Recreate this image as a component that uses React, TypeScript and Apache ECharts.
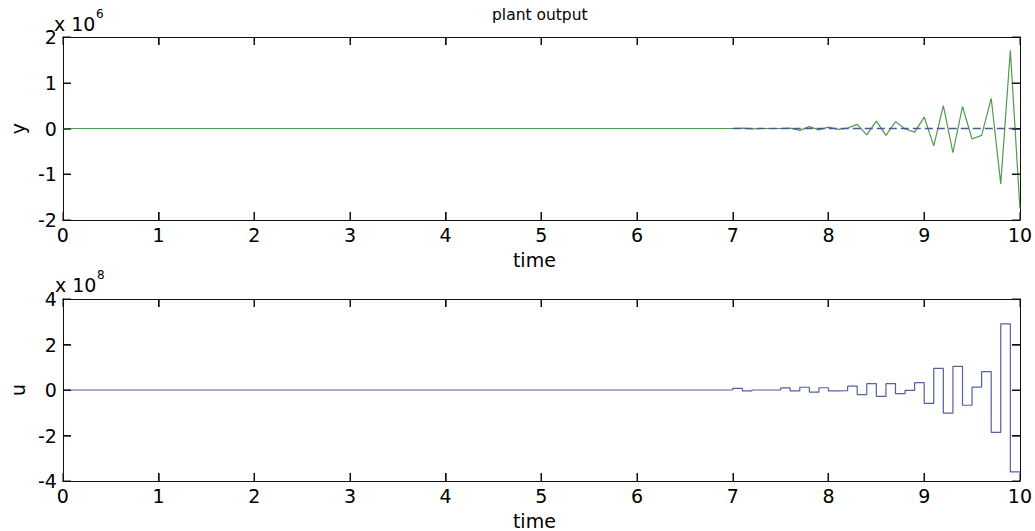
import React, { useEffect, useRef } from "react";
import * as echarts from "echarts";

// x tick values (time)
const timeTicks = [0, 1, 2, 3, 4, 5, 6, 7, 8, 9, 10];
// y tick values (top: units of 1e6, bottom: units of 1e8)
const yTicksTop = [-2, -1, 0, 1, 2];
const yTicksBottom = [-4, -2, 0, 2, 4];

// Plant output y (units of 1e6), sampled every 0.1 s from t = 7.0
const yTimes = [0, 7.0, 7.1, 7.2, 7.3, 7.4, 7.5, 7.6, 7.7, 7.8, 7.9, 8.0, 8.1, 8.2, 8.3, 8.4, 8.5, 8.6, 8.7, 8.8, 8.9, 9.0, 9.1, 9.2, 9.3, 9.4, 9.5, 9.6, 9.7, 9.8, 9.9, 10.0];
const plantOutput = [0, 0, 0.01, -0.01, 0, 0, 0, 0.01, -0.04, 0.04, -0.03, 0.03, -0.02, 0.01, 0.09, -0.14, 0.16, -0.15, 0.15, -0.01, -0.08, 0.25, -0.38, 0.5, -0.53, 0.48, -0.23, -0.15, 0.66, -1.21, 1.71, -1.75];

// Reference (dashed) signal (units of 1e6)
const refTimes = [7.0, 10.0];
const refValues = [0, 0];

// Control input u (units of 1e8), zero-order hold, 0.1 s steps
const uTimes = [0, 7.0, 7.1, 7.2, 7.3, 7.4, 7.5, 7.6, 7.7, 7.8, 7.9, 8.0, 8.1, 8.2, 8.3, 8.4, 8.5, 8.6, 8.7, 8.8, 8.9, 9.0, 9.1, 9.2, 9.3, 9.4, 9.5, 9.6, 9.7, 9.8, 9.9, 10.0];
const controlU = [0, 0.07, -0.04, 0, 0, 0, 0.09, -0.04, 0.12, -0.09, 0.1, -0.04, -0.03, 0.17, -0.2, 0.28, -0.28, 0.28, -0.16, -0.02, 0.32, -0.59, 0.95, -1.02, 1.04, -0.67, 0.13, 0.81, -1.86, 2.91, -3.6, -3.6];

const FONT = "DejaVu Sans";
const AXIS_COLOR = "#111111";
const TICK_LEN = 8;

function pairs(xs: number[], ys: number[]) {
  return xs.map((x, i) => [x, ys[i]]);
}

function makeTick() {
  return { show: true, inside: true, length: TICK_LEN, lineStyle: { color: AXIS_COLOR, width: 1 } };
}
function makeLine() {
  return { show: true, onZero: false, lineStyle: { color: AXIS_COLOR, width: 1 } };
}
function makeLabel(extra: object = {}) {
  return { fontFamily: FONT, fontSize: 19, color: "#000", ...extra };
}

const textGraphics = [
  { id: "e6", type: "text", left: 54, top: 14, z: 20, style: { text: "x 10", font: `19px "${FONT}"`, lineHeight: 19, fill: "#000" } },
  { id: "e6s", type: "text", left: 96, top: 8, z: 20, style: { text: "6", font: `12px "${FONT}"`, fill: "#000" } },
  { id: "e8", type: "text", left: 55, top: 275, z: 20, style: { text: "x 10", font: `19px "${FONT}"`, lineHeight: 19, fill: "#000" } },
  { id: "e8s", type: "text", left: 97, top: 269, z: 20, style: { text: "8", font: `12px "${FONT}"`, fill: "#000" } },
];

export default function App() {
  const ref = useRef<HTMLDivElement>(null);
  useEffect(() => {
    if (!ref.current) return;
    const chart = echarts.init(ref.current, undefined, { renderer: "svg" });

    const xAxisFor = (gridIndex: number, main: boolean) => ({
      gridIndex,
      type: "value",
      min: timeTicks[0],
      max: timeTicks[timeTicks.length - 1],
      interval: 1,
      position: main ? "bottom" : "top",
      axisLine: makeLine(),
      axisTick: makeTick(),
      splitLine: { show: false },
      axisLabel: main ? makeLabel({ margin: 5 }) : { show: false },
      name: main ? "time" : "",
      nameLocation: "middle",
      nameGap: 30,
      nameTextStyle: makeLabel({ padding: [0, 14, 0, 0] }),
    });
    const yAxisFor = (gridIndex: number, main: boolean, ticks: number[], name: string) => ({
      gridIndex,
      type: "value",
      min: ticks[0],
      max: ticks[ticks.length - 1],
      interval: ticks[1] - ticks[0],
      position: main ? "left" : "right",
      axisLine: makeLine(),
      axisTick: makeTick(),
      splitLine: { show: false },
      axisLabel: main ? makeLabel({ margin: 6 }) : { show: false },
      name: main ? name : "",
      nameLocation: "middle",
      nameRotate: 90,
      nameGap: 28,
      nameTextStyle: makeLabel(),
    });

    chart.setOption({
      animation: false,
      backgroundColor: "#ffffff",
      title: {
        text: "plant output",
        left: 487,
        top: 2,
        textStyle: { fontFamily: FONT, fontSize: 15.5, fontWeight: "normal", color: "#000" },
      },
      grid: [
        { left: 53, top: 37, width: 968, height: 183 },
        { left: 53, top: 299, width: 968, height: 184 },
      ],
      xAxis: [xAxisFor(0, true), xAxisFor(0, false), xAxisFor(1, true), xAxisFor(1, false)],
      yAxis: [
        yAxisFor(0, true, yTicksTop, "y"),
        yAxisFor(0, false, yTicksTop, ""),
        yAxisFor(1, true, yTicksBottom, "u"),
        yAxisFor(1, false, yTicksBottom, ""),
      ],
      graphic: textGraphics,
      series: [
        {
          name: "y",
          type: "line",
          xAxisIndex: 0,
          yAxisIndex: 0,
          data: pairs(yTimes, plantOutput),
          showSymbol: false,
          silent: true,
          lineStyle: { color: "#4e9a4e", width: 1.2 },
          z: 2,
        },
        {
          name: "reference",
          type: "line",
          xAxisIndex: 0,
          yAxisIndex: 0,
          data: pairs(refTimes, refValues),
          showSymbol: false,
          silent: true,
          lineStyle: { color: "#4a5a92", width: 1.3, type: [8, 4] },
          z: 3,
        },
        {
          name: "u",
          type: "line",
          xAxisIndex: 2,
          yAxisIndex: 2,
          step: "end",
          data: pairs(uTimes, controlU),
          showSymbol: false,
          silent: true,
          lineStyle: { color: "#5560a0", width: 1.2 },
        },
      ],
    });

    // Inward box ticks on all four sides, positioned through the axes' scales
    const tickGraphics: any[] = [];
    const panels = [
      { xi: 0, yi: 0, yTicks: yTicksTop },
      { xi: 2, yi: 2, yTicks: yTicksBottom },
    ];
    panels.forEach((pnl, pi) => {
      const finder = { xAxisIndex: pnl.xi, yAxisIndex: pnl.yi };
      const yMin = pnl.yTicks[0];
      const yMax = pnl.yTicks[pnl.yTicks.length - 1];
      const tMin = timeTicks[0];
      const tMax = timeTicks[timeTicks.length - 1];
      const bl = chart.convertToPixel(finder as any, [tMin, yMin]) as number[];
      const tr = chart.convertToPixel(finder as any, [tMax, yMax]) as number[];
      if (!bl || !tr) return;
      const left = Math.round(bl[0]);
      const right = Math.round(tr[0]);
      const bottom = Math.round(bl[1]);
      const top = Math.round(tr[1]);
      timeTicks.forEach((t, k) => {
        const p = chart.convertToPixel(finder as any, [t, yMin]) as number[];
        const x = Math.round(p[0]);
        tickGraphics.push(
          { id: `xb${pi}_${k}`, type: "rect", z: 15, silent: true, shape: { x: x - 0.5, y: bottom - TICK_LEN, width: 1.2, height: TICK_LEN }, style: { fill: AXIS_COLOR } },
          { id: `xt${pi}_${k}`, type: "rect", z: 15, silent: true, shape: { x: x - 0.5, y: top, width: 1.2, height: TICK_LEN }, style: { fill: AXIS_COLOR } }
        );
      });
      pnl.yTicks.forEach((v, k) => {
        const p = chart.convertToPixel(finder as any, [tMin, v]) as number[];
        const y = Math.round(p[1]);
        tickGraphics.push(
          { id: `yl${pi}_${k}`, type: "rect", z: 15, silent: true, shape: { x: left, y: y - 0.5, width: TICK_LEN, height: 1.2 }, style: { fill: AXIS_COLOR } },
          { id: `yr${pi}_${k}`, type: "rect", z: 15, silent: true, shape: { x: right - TICK_LEN, y: y - 0.5, width: TICK_LEN, height: 1.2 }, style: { fill: AXIS_COLOR } }
        );
      });
    });
    chart.setOption({ graphic: [...textGraphics, ...tickGraphics] });

    return () => chart.dispose();
  }, []);

  return (
    <div
      ref={ref}
      style={{ position: "absolute", left: 0, top: 0, width: 1035, height: 531 }}
    />
  );
}
